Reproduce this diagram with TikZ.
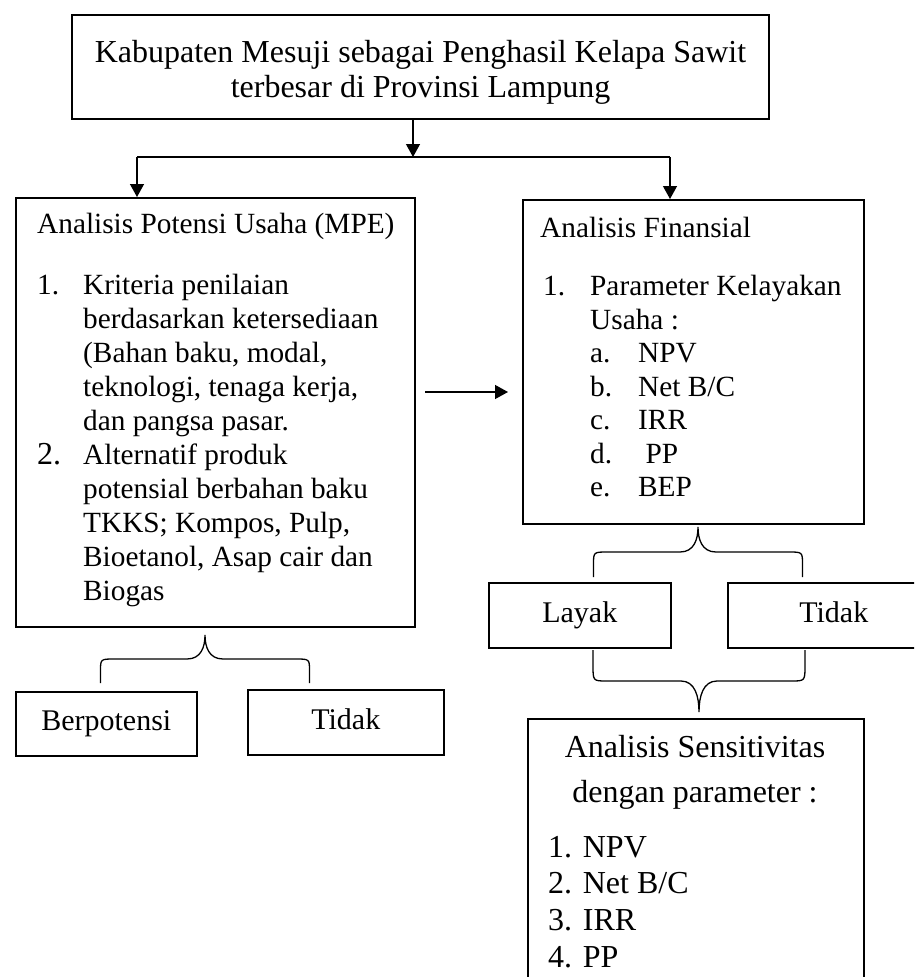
\documentclass[tikz,border=0pt]{standalone}
\usepackage{fontspec}
\setmainfont{Liberation Serif}
\usetikzlibrary{arrows.meta,positioning,calc}

% kurung kurawal: ujung, setengah lebar, tinggi
\newcommand{\kurawal}[3]{%
  \draw[garis,shift={#1}] (-#2,{2*(#3)}) -- (-#2,{1.5*(#3)})
    .. controls (-#2,#3) .. ({-#2+14},#3) -- (-18,#3)
    .. controls (-4,#3) and (0,{0.5*(#3)}) .. (0,0)
    .. controls (0,{0.5*(#3)}) and (4,#3) .. (18,#3) -- ({#2-14},#3)
    .. controls (#2,#3) .. (#2,{1.5*(#3)}) -- (#2,{2*(#3)});}

\tikzset{
  kotak/.style={draw,line width=1.6pt,inner sep=0pt},
  pilihan/.style={kotak,anchor=north west,font={\fontsize{30}{34}\selectfont},text height=20pt,text depth=6pt},
  isi/.style={inner sep=0pt,align=left,anchor=north west},
  garis/.style={line width=1.3pt},
  panah/.style={garis,-{Triangle[width=14pt,length=13pt]}},
}

\begin{document}
\begin{tikzpicture}[x=1pt,y=-1pt]
  \clip (0,0) rectangle (914,977);
  \fill[white] (0,0) rectangle (914,977);

  % kotak utama
  \node[kotak,minimum width=697pt,minimum height=104pt,align=center,
        font={\fontsize{32}{35}\selectfont}] (atas) at (420.5,67)
    {\rule{0pt}{32pt}Kabupaten Mesuji sebagai Penghasil Kelapa Sawit\\terbesar di Provinsi Lampung};
  \node[kotak,minimum width=399pt,minimum height=429pt,anchor=north west] (mpe) at (15,197) {};
  \node[kotak,minimum width=341pt,minimum height=324pt,anchor=north west] (fin) at (522,199) {};
  \node[kotak,minimum width=336pt,minimum height=290pt,anchor=north west] (sens) at (527,718) {};

  % kotak pilihan
  \node[pilihan,minimum width=181pt,minimum height=64pt] (berpotensi) at (15,691) {Berpotensi};
  \node[pilihan,minimum width=196pt,minimum height=65pt] (tidakA) at (247,689) {Tidak};
  \node[pilihan,minimum width=182pt,minimum height=65pt] (layak) at (488,582) {Layak};
  \node[pilihan,minimum width=212pt,minimum height=65pt] (tidakB) at (727,582) {Tidak};

  % isi kotak
  \node[isi,font={\fontsize{29.3}{34}\selectfont}] (mpe-teks) at (37,208)
    {\rule{0pt}{25pt}Analisis Potensi Usaha (MPE)\\[27pt]
     \makebox[46pt][l]{1.}Kriteria penilaian\\
     \hspace*{46pt}berdasarkan ketersediaan\\
     \hspace*{46pt}(Bahan baku, modal,\\
     \hspace*{46pt}teknologi, tenaga kerja,\\
     \hspace*{46pt}dan pangsa pasar.\\
     \makebox[46pt][l]{\fontsize{32}{34}\selectfont 2.}Alternatif produk\\
     \hspace*{46pt}potensial berbahan baku\\
     \hspace*{46pt}TKKS; Kompos, Pulp,\\
     \hspace*{46pt}Bioetanol, Asap cair dan\\
     \hspace*{46pt}Biogas};
  \node[isi,font={\fontsize{29.3}{33.5}\selectfont}] (fin-teks) at (540,212)
    {\rule{0pt}{25pt}Analisis Finansial\\[25pt]
     \hspace*{3pt}\makebox[47pt][l]{1.}Parameter Kelayakan\\
     \hspace*{50pt}Usaha :\\
     \hspace*{50pt}\makebox[48pt][l]{a.}NPV\\
     \hspace*{50pt}\makebox[48pt][l]{b.}Net B/C\\
     \hspace*{50pt}\makebox[48pt][l]{c.}IRR\\
     \hspace*{50pt}\makebox[48pt][l]{d.}\ PP\\
     \hspace*{50pt}\makebox[48pt][l]{e.}BEP};
  \node[inner sep=0pt,align=center,anchor=north,font={\fontsize{32}{45}\selectfont}] (sens-judul) at (695,730)
    {\rule{0pt}{27pt}Analisis Sensitivitas\\dengan parameter :};
  \node[isi,font={\fontsize{32}{36.7}\selectfont}] (sens-daftar) at (548,830)
    {\rule{0pt}{27pt}1. NPV\\2. Net B/C\\3. IRR\\4. PP};

  % panah
  \coordinate (cabang) at (413,157);
  \coordinate (kiri) at (137,157);
  \coordinate (kanan) at (670,157);
  \coordinate (tengah) at (425,392);
  \draw[panah] (atas.south -| cabang) -- (cabang);
  \draw[garis] (kiri) -- (kanan);
  \draw[panah] (kiri) -- (kiri |- mpe.north);
  \draw[panah] (kanan) -- (kanan |- fin.north);
  \draw[panah,shorten >=14pt] (tengah) -- (tengah -| fin.west);

  % kurung
  \kurawal{(698,527)}{104.5}{25}
  \kurawal{(699,712)}{106}{-31}
  \kurawal{(205,635)}{104.5}{24}
\end{tikzpicture}
\end{document}
